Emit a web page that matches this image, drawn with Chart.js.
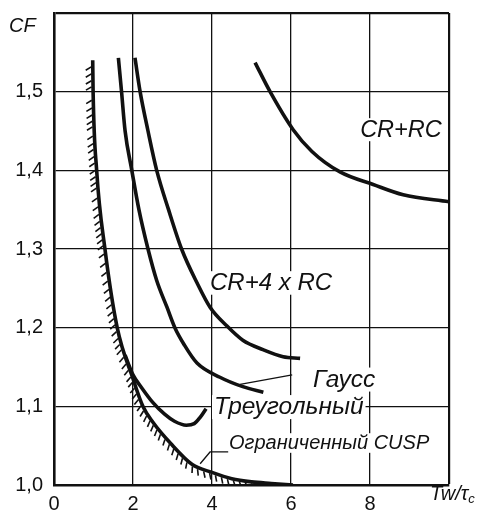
<!DOCTYPE html>
<html>
<head>
<meta charset="utf-8">
<script src="https://cdn.jsdelivr.net/npm/chart.js@4.4.1/dist/chart.umd.min.js"></script>
<style>
  html, body { margin: 0; padding: 0; background: #fff; }
</style>
</head>
<body>
<canvas id="cfChart" width="485" height="517"></canvas>
<script>
// Crest factor CF vs Tw/tau_c for different shapers

// Ограниченный CUSP (hatched boundary)
const cuspX = [0.98, 0.99, 1.08, 1.29, 1.6, 2.0, 2.25, 2.5, 2.95, 3.5, 4.0, 4.5, 5.0, 5.5, 6.05];
const cuspY = [1.54, 1.50, 1.40, 1.30, 1.20, 1.135, 1.10, 1.08, 1.053, 1.026, 1.016, 1.008, 1.004, 1.002, 1.0];

// Треугольный
const triX = [1.8, 2.0, 2.2, 2.5, 2.8, 3.05, 3.35, 3.55, 3.7, 3.85];
const triY = [1.165, 1.14, 1.125, 1.105, 1.09, 1.081, 1.076, 1.078, 1.086, 1.097];

// Гаусс
const gaussX = [1.63, 1.71, 1.8, 1.97, 2.15, 2.38, 2.6, 2.86, 3.06, 3.3, 3.62, 4.2, 4.78, 5.3];
const gaussY = [1.543, 1.50, 1.45, 1.40, 1.35, 1.30, 1.26, 1.226, 1.20, 1.178, 1.155, 1.137, 1.125, 1.118];

// CR+4 x RC
const cr4X = [2.05, 2.18, 2.38, 2.6, 2.9, 3.23, 3.62, 3.95, 4.38, 4.78, 5.29, 5.8, 6.23];
const cr4Y = [1.543, 1.50, 1.45, 1.40, 1.35, 1.30, 1.257, 1.226, 1.202, 1.184, 1.172, 1.163, 1.161];

// CR+RC
const crX = [5.09, 5.47, 6.05, 6.53, 7.24, 8.08, 8.84, 10.0];
const crY = [1.537, 1.50, 1.452, 1.424, 1.398, 1.382, 1.369, 1.36];

// axes
const xMin = 0, xMax = 10, xStep = 2;
const yMin = 1.0, yMax = 1.6, yStep = 0.1;

// curve captions
const labelText = ['CR+RC', 'CR+4 x RC', 'Гаусс', 'Треугольный', 'Ограниченный CUSP'];
const labelX = [7.75, 3.95, 6.56, 4.05, 4.43];
const labelY = [1.443, 1.248, 1.125, 1.090, 1.046];
const labelSize = [23.5, 24, 24.5, 24.5, 20];

const FONT = '"Liberation Sans", Arial, Helvetica, sans-serif';

function pts(xs, ys) {
  return xs.map((x, i) => ({ x: x, y: ys[i] }));
}

function line(xs, ys) {
  return {
    data: pts(xs, ys),
    borderColor: '#111',
    borderWidth: 3.6,
    pointRadius: 0,
    fill: false,
    cubicInterpolationMode: 'monotone',
    borderCapStyle: 'butt',
  };
}

// sample the drawn curve densely (uses bezier control points from the chart)
function densePath(meta) {
  const p = meta.data;
  const out = [];
  for (let i = 0; i < p.length - 1; i++) {
    const a = p[i], b = p[i + 1];
    const c1x = a.cp2x ?? a.x, c1y = a.cp2y ?? a.y;
    const c2x = b.cp1x ?? b.x, c2y = b.cp1y ?? b.y;
    for (let k = 0; k < 20; k++) {
      const t = k / 20, u = 1 - t;
      out.push({
        x: u*u*u*a.x + 3*u*u*t*c1x + 3*u*t*t*c2x + t*t*t*b.x,
        y: u*u*u*a.y + 3*u*u*t*c1y + 3*u*t*t*c2y + t*t*t*b.y,
      });
    }
  }
  const last = p[p.length - 1];
  out.push({ x: last.x, y: last.y });
  return out;
}

const decor = {
  id: 'decor',
  beforeDatasetsDraw(chart) {
    const { ctx, scales } = chart;
    ctx.save();
    ctx.fillStyle = '#fff';
    labelText.forEach((txt, i) => {
      ctx.font = `italic ${labelSize[i]}px ${FONT}`;
      const w = ctx.measureText(txt).width;
      const px = scales.x.getPixelForValue(labelX[i]);
      const py = scales.y.getPixelForValue(labelY[i]);
      ctx.fillRect(px - 2, py - labelSize[i] * 0.78, w + 4, labelSize[i] * 0.98);
    });
    ctx.restore();
  },
  afterDatasetsDraw(chart) {
    const { ctx, scales, chartArea } = chart;
    const X = v => scales.x.getPixelForValue(v);
    const Y = v => scales.y.getPixelForValue(v);
    ctx.save();

    // hatching on the CUSP limit curve
    ctx.save();
    ctx.beginPath();
    ctx.rect(0, 0, chart.width, chartArea.bottom - 1);
    ctx.clip();
    const path = densePath(chart.getDatasetMeta(0));
    const step = 5.5, len = 6.5, ang = Math.PI / 6;
    let acc = 0;
    ctx.strokeStyle = '#111';
    ctx.lineWidth = 1.6;
    for (let i = 1; i < path.length; i++) {
      const dx = path[i].x - path[i - 1].x, dy = path[i].y - path[i - 1].y;
      const d = Math.hypot(dx, dy);
      if (d === 0) continue;
      acc += d;
      if (acc >= step) {
        acc = 0;
        const tx = dx / d, ty = dy / d;
        const nx = -ty, ny = tx;
        const ex = nx * Math.cos(ang) + tx * Math.sin(ang);
        const ey = ny * Math.cos(ang) + ty * Math.sin(ang);
        const sx = path[i].x + nx * 1.5, sy = path[i].y + ny * 1.5;
        ctx.beginPath();
        ctx.moveTo(sx, sy);
        ctx.lineTo(sx + ex * len, sy + ey * len);
        ctx.stroke();
      }
    }
    ctx.restore();

    // leader lines
    ctx.strokeStyle = '#111';
    ctx.lineWidth = 1.3;
    ctx.beginPath();
    ctx.moveTo(X(4.71), Y(1.128));
    ctx.lineTo(X(6.03), Y(1.14));
    ctx.moveTo(X(3.70), Y(1.027));
    ctx.lineTo(X(3.95), Y(1.042));
    ctx.lineTo(X(4.41), Y(1.042));
    ctx.stroke();

    // curve captions
    ctx.fillStyle = '#111';
    ctx.textBaseline = 'alphabetic';
    labelText.forEach((txt, i) => {
      ctx.font = `italic ${labelSize[i]}px ${FONT}`;
      ctx.fillText(txt, X(labelX[i]), Y(labelY[i]));
    });

    // axis titles
    ctx.font = `italic 20px ${FONT}`;
    ctx.fillText('CF', chartArea.left - 45, chartArea.top + 19);
    ctx.font = `italic 20px ${FONT}`;
    const tx0 = chartArea.right - 19, ty0 = chartArea.bottom + 15;
    ctx.fillText('Tw/τ', tx0, ty0);
    const w = ctx.measureText('Tw/τ').width;
    ctx.font = `italic 13px ${FONT}`;
    ctx.fillText('c', tx0 + w, ty0 + 3);
    ctx.restore();
  },
};

const gridWidth = ctx => (ctx.index === ctx.scale.ticks.length - 1 ? 2.2 : 1.3);

new Chart(document.getElementById('cfChart'), {
  type: 'line',
  data: {
    datasets: [
      line(cuspX, cuspY),
      line(triX, triY),
      line(gaussX, gaussY),
      line(cr4X, cr4Y),
      line(crX, crY),
    ],
  },
  options: {
    responsive: false,
    devicePixelRatio: 1,
    animation: false,
    layout: { padding: { left: 0, right: 36, top: 13, bottom: 0 } },
    plugins: {
      legend: { display: false },
      tooltip: { enabled: false },
    },
    scales: {
      x: {
        type: 'linear',
        min: xMin,
        max: xMax,
        afterFit: s => { s.height = 32; s.paddingLeft = 0; s.paddingRight = 0; },
        ticks: {
          stepSize: xStep,
          color: '#111',
          padding: 7,
          font: { family: FONT, size: 20 },
          maxRotation: 0,
          callback: v => (v === xMax ? '' : String(v)),
        },
        grid: { color: '#111', lineWidth: gridWidth, drawTicks: false },
        border: { color: '#111', width: 2.6 },
      },
      y: {
        type: 'linear',
        min: yMin,
        max: yMax,
        afterFit: s => { s.width = 54; s.paddingTop = 0; s.paddingBottom = 0; },
        ticks: {
          stepSize: yStep,
          color: '#111',
          padding: 11,
          font: { family: FONT, size: 20 },
          callback: v => (Math.abs(v - yMax) < 1e-6 ? '' : v.toFixed(1).replace('.', ',')),
        },
        grid: { color: '#111', lineWidth: gridWidth, drawTicks: false },
        border: { color: '#111', width: 2.6 },
      },
    },
  },
  plugins: [decor],
});
</script>
</body>
</html>
